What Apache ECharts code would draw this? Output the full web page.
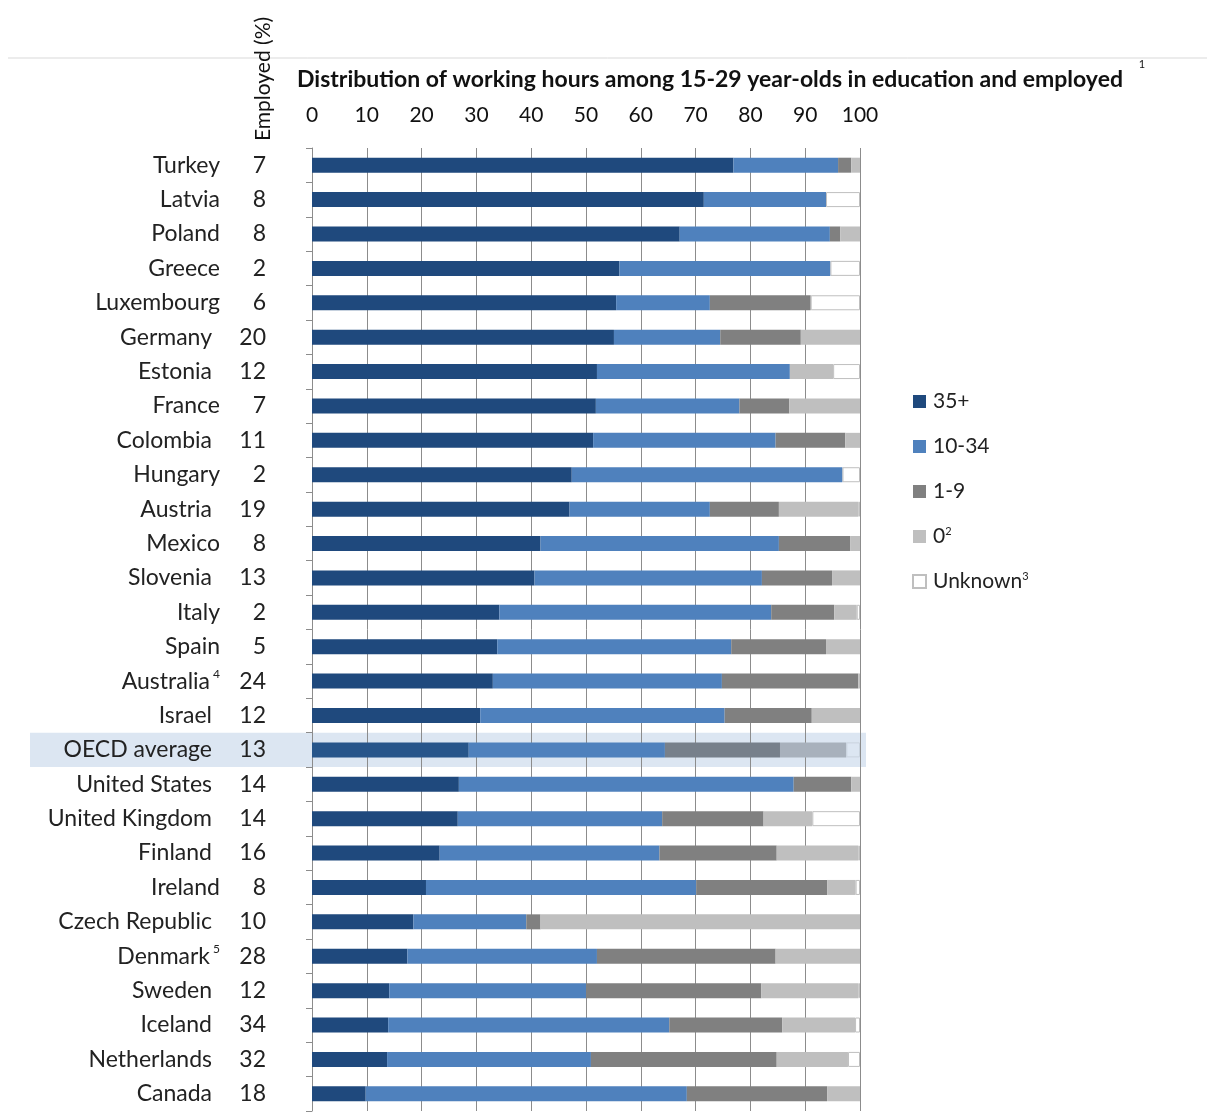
<!DOCTYPE html>
<html>
<head>
<meta charset="utf-8">
<script src="https://cdn.jsdelivr.net/npm/echarts@6/dist/echarts.min.js"></script>
<style>
html,body{margin:0;padding:0;background:#fff;}
#c{width:1207px;height:1113px;}
</style>
</head>
<body>
<div id="c"></div>
<script>
const countries = ['Turkey','Latvia','Poland','Greece','Luxembourg','Germany','Estonia','France','Colombia','Hungary','Austria','Mexico','Slovenia','Italy','Spain','Australia','Israel','OECD average','United States','United Kingdom','Finland','Ireland','Czech Republic','Denmark','Sweden','Iceland','Netherlands','Canada'];
const noteMarks = {'Australia':'4','Denmark':'5'};
const employed = [7,8,8,2,6,20,12,7,11,2,19,8,13,2,5,24,12,13,14,14,16,8,10,28,12,34,32,18];
const h35 = [76.9,71.5,67.1,56.1,55.5,55.1,52.0,51.8,51.3,47.4,47.0,41.7,40.6,34.2,33.8,33.0,30.7,28.6,26.8,26.6,23.3,20.8,18.5,17.4,14.1,13.9,13.7,9.8];
const h10to34 = [19.1,22.3,27.4,38.5,17.1,19.4,35.2,26.2,33.3,49.4,25.6,43.5,41.5,49.6,42.7,41.8,44.6,35.8,61.1,37.3,40.1,49.3,20.6,34.6,35.9,51.3,37.2,58.6];
const h1to9 = [2.4,0,1.9,0,18.4,14.7,0,9.1,12.7,0,12.6,13.0,12.8,11.5,17.3,24.9,15.9,21.0,10.5,18.5,21.4,23.9,2.6,32.6,32.0,20.6,33.9,25.6];
const h0 = [1.6,0,3.6,0,0,10.8,7.9,12.9,2.7,0,14.5,1.8,5.1,4.1,6.2,0.3,8.8,12.1,1.6,8.9,14.9,5.2,58.3,15.4,17.7,13.3,13.0,6.0];
const unknown = [0,6.2,0,5.4,9.0,0,4.9,0,0,3.2,0.3,0,0,0.6,0,0,0,2.5,0,8.7,0.3,0.8,0,0,0.3,0.9,2.2,0];
const xTicks = [0,10,20,30,40,50,60,70,80,90,100];
const seriesNames = ['35+','10-34','1-9','0','Unknown'];
const highlightRow = 'OECD average';

const FONT = 'Lato';
const colors = ['#1f497d','#4f81bd','#808080','#bfbfbf','#ffffff'];
const hlColors = ['#27558a','#4f81bd','#77808b','#a8b1bc','#dce6f2'];
const seriesData = [h35,h10to34,h1to9,h0,unknown];

function mkData(arr, si){
  return arr.map((v,i)=>{
    const val = v===0 ? null : v;
    if (countries[i]===highlightRow) {
      return {value: val, itemStyle:{color: hlColors[si], borderColor: si===4 ? '#c9d3de' : hlColors[si]}};
    }
    return val;
  });
}

const chart = echarts.init(document.getElementById('c'));
const option = {
  animation:false,
  backgroundColor:'#fff',
  textStyle:{fontFamily:FONT},
  title:{
    text:'Distribution of working hours among 15-29 year-olds in education and employed',
    left:292, top:61,
    textStyle:{fontFamily:FONT,fontWeight:'bold',fontSize:23,color:'#111',lineHeight:28}
  },
  legend:{
    orient:'vertical', left:907, top:386,
    itemWidth:13, itemHeight:13, itemGap:24,
    icon:'rect',
    data:seriesNames,
    textStyle:{fontFamily:FONT,fontSize:21,color:'#222',
      rich:{s:{fontFamily:FONT,fontSize:11,color:'#222',verticalAlign:'top'}, n:{fontFamily:FONT,fontSize:21,color:'#222',padding:[0,0,0,2]}}},
    formatter:function(name){
      if(name==='0') return '{n|0}{s|2}';
      if(name==='Unknown') return '{n|Unknown}{s|3}';
      return '{n|'+name+'}';
    }
  },
  grid:{left:312, right:347, top:148, bottom:2},
  xAxis:{
    type:'value', position:'top', min:0, max:100, interval:10,
    axisLine:{show:false}, axisTick:{show:false},
    splitLine:{show:true,lineStyle:{color:'#8c8c8c',width:1}},
    axisLabel:{fontFamily:FONT,fontSize:21,color:'#111',margin:22,
      formatter:function(v){return xTicks.indexOf(v)>=0 ? String(v) : '';}}
  },
  yAxis:[{
    type:'category', inverse:true, data:countries,
    axisLine:{show:true,lineStyle:{color:'#8c8c8c'}},
    axisTick:{show:true,length:6,lineStyle:{color:'#8c8c8c'}},
    axisLabel:{margin:92,fontFamily:FONT,fontSize:23,color:'#222',
      formatter:function(v){
        const e = v.replace(/[{}|]/g,'');
        const twoDigit = employed[countries.indexOf(v)] >= 10;
        if(noteMarks[v]) return '{n|'+e+'}{s|'+noteMarks[v]+'}';
        return twoDigit ? '{w|'+e+'}' : '{n|'+e+'}';
      },
      rich:{n:{fontFamily:FONT,fontSize:23,color:'#222',lineHeight:26},
            w:{fontFamily:FONT,fontSize:23,color:'#222',lineHeight:26,padding:[0,8,0,0]},
            s:{fontFamily:FONT,fontSize:12,color:'#222',verticalAlign:'top',lineHeight:26,padding:[0,0,0,3]}}
    }
  },{
    type:'category', inverse:true, data:countries, position:'left',
    axisLine:{show:false}, axisTick:{show:false},
    axisLabel:{margin:46,fontFamily:FONT,fontSize:23,color:'#222',
      formatter:function(v){ return String(employed[countries.indexOf(v)]); }}
  }],
  series: seriesNames.map((n,si)=>({
    name:n, type:'bar', stack:'total', barWidth:15, yAxisIndex:0,
    itemStyle:{color:colors[si], borderColor: si===4 ? '#bfbfbf' : colors[si], borderWidth: si===4 ? 1 : 0},
    emphasis:{disabled:true},
    data: mkData(seriesData[si], si)
  })),
  graphic:[]
};
chart.setOption(option);

// highlight band + decorations, positioned through the library's scales
const yc = chart.convertToPixel({yAxisIndex:0}, highlightRow);
const y0 = chart.convertToPixel({yAxisIndex:0}, countries[0]);
const y1 = chart.convertToPixel({yAxisIndex:0}, countries[1]);
const band = Math.abs(y1-y0);
const xEnd = chart.convertToPixel({xAxisIndex:0}, 100);
chart.setOption({graphic:[
  {type:'rect', z:-10, silent:true, shape:{x:30, y:yc-band/2, width:xEnd+6-30, height:band}, style:{fill:'#dce6f2'}},
  {type:'line', z:-10, silent:true, shape:{x1:8,y1:58,x2:1207,y2:58}, style:{stroke:'#d9d9d9',lineWidth:1}},
  {type:'text', silent:true, x:1142, y:64, style:{text:'1', fontFamily:FONT, fontSize:11, fill:'#111', align:'center', verticalAlign:'middle'}},
  {type:'text', silent:true, x:263, y:79, rotation:Math.PI/2,
    style:{text:'Employed (%)', fontFamily:FONT, fontSize:21, fill:'#111', align:'center', verticalAlign:'middle'}}
]});
</script>
</body>
</html>
